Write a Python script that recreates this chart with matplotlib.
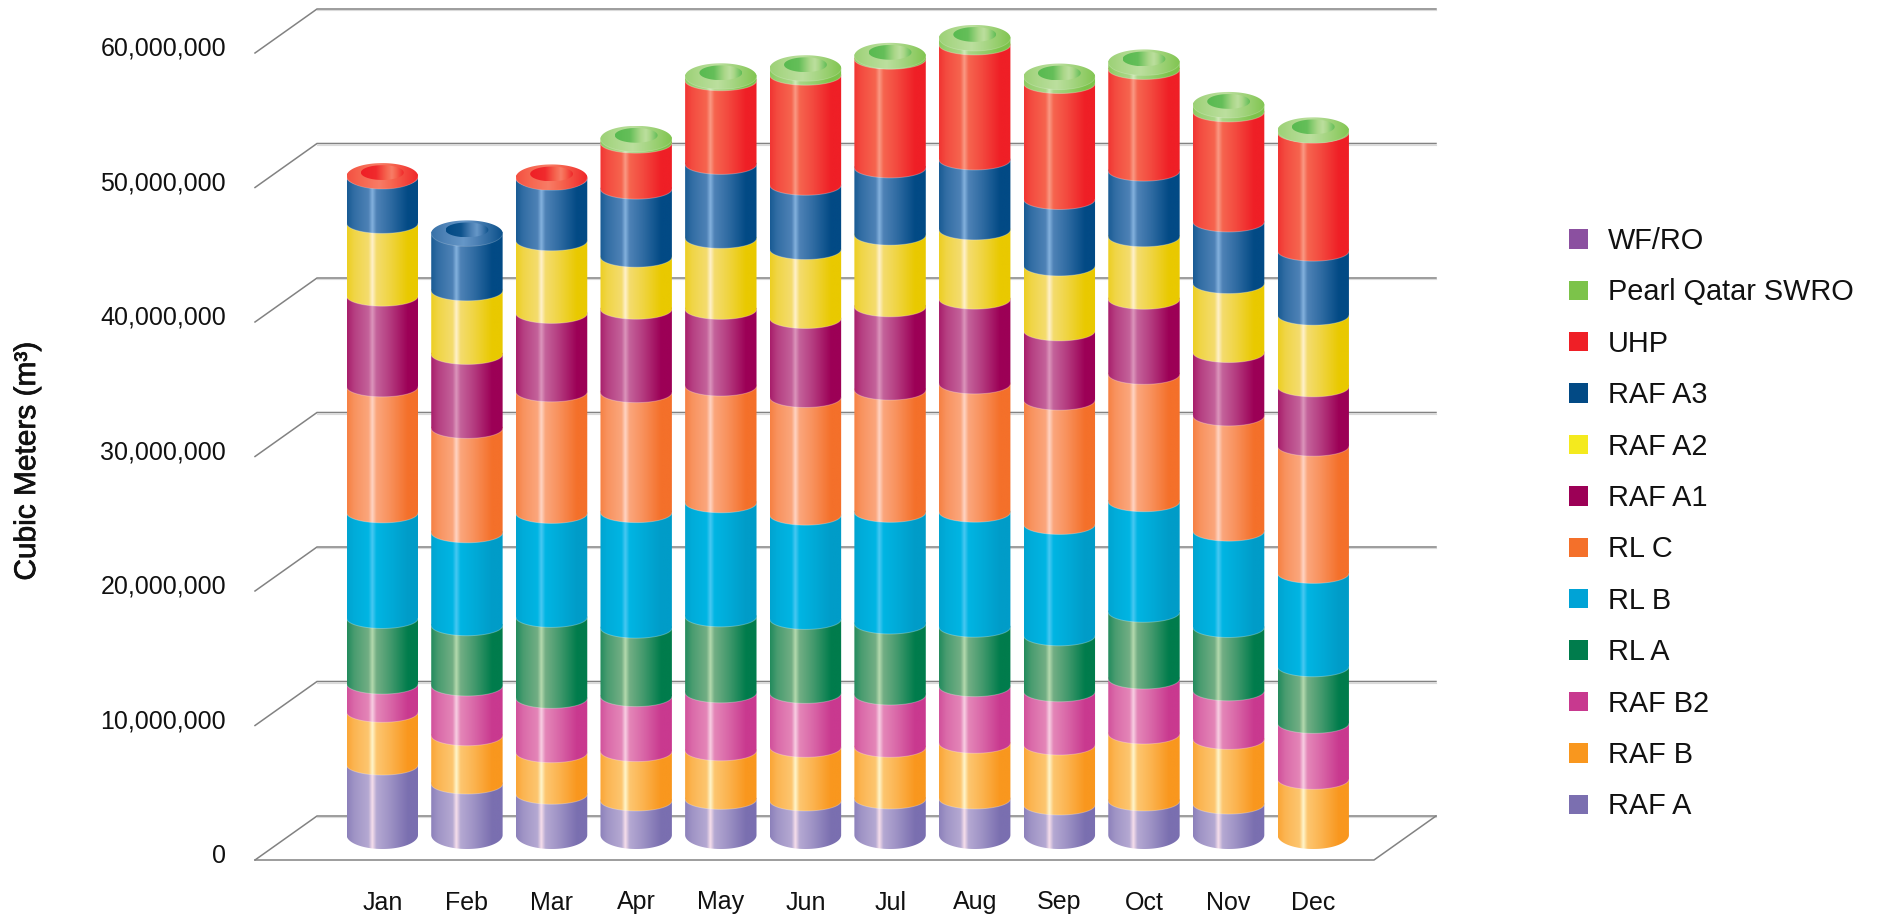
import numpy as np
import matplotlib
matplotlib.use("Agg")
import matplotlib.pyplot as plt
import matplotlib.patheffects as pe
from matplotlib.path import Path
from matplotlib.patches import PathPatch, Patch
from matplotlib.colors import to_rgb

plt.rcParams['font.family'] = ['Liberation Sans', 'DejaVu Sans']

months = ["Jan", "Feb", "Mar", "Apr", "May", "Jun", "Jul", "Aug", "Sep", "Oct", "Nov", "Dec"]
y_ticks = [0, 10, 20, 30, 40, 50, 60]

# Monthly production per source, million cubic meters, stacked bottom to top
raf_a   = [5.20, 3.79, 3.03, 2.53, 2.65, 2.53, 2.68, 2.68, 2.23, 2.53, 2.30, 0.00]
raf_b   = [3.92, 3.59, 3.09, 3.67, 3.61, 3.99, 3.84, 4.14, 4.46, 4.98, 4.81, 4.14]
raf_b2  = [2.10, 3.70, 4.04, 4.09, 4.31, 4.01, 3.89, 4.21, 3.96, 4.09, 3.61, 4.16]
rl_a    = [4.88, 4.48, 6.02, 5.09, 5.65, 5.50, 5.28, 4.42, 4.16, 4.96, 4.71, 4.21]
rl_b    = [7.85, 6.91, 7.73, 8.59, 8.48, 7.75, 8.30, 8.55, 8.28, 8.22, 7.16, 6.94]
rl_c    = [9.37, 7.76, 9.04, 8.92, 8.68, 8.75, 9.09, 9.54, 9.24, 9.47, 8.57, 9.46]
raf_a1  = [6.74, 5.50, 5.83, 6.20, 5.70, 5.87, 6.19, 6.30, 5.15, 5.58, 4.71, 4.41]
raf_a2  = [5.41, 4.73, 5.40, 3.87, 5.28, 5.13, 5.33, 5.15, 4.83, 4.65, 5.13, 5.33]
raf_a3  = [3.42, 4.27, 4.61, 5.06, 5.50, 4.78, 5.00, 5.20, 4.94, 4.88, 4.58, 4.76]
uhp     = [0.10, 0.00, 0.10, 3.42, 6.22, 8.18, 8.08, 8.55, 8.62, 7.56, 8.18, 8.80]
pearl   = [0.00, 0.00, 0.00, 0.32, 0.33, 0.52, 0.25, 0.52, 0.52, 0.52, 0.52, 0.18]
wf_ro   = [0.00] * 12

series_names = ["RAF A", "RAF B", "RAF B2", "RL A", "RL B", "RL C", "RAF A1", "RAF A2",
                "RAF A3", "UHP", "Pearl Qatar SWRO", "WF/RO"]
series_values = [raf_a, raf_b, raf_b2, rl_a, rl_b, rl_c, raf_a1, raf_a2, raf_a3, uhp, pearl, wf_ro]
base_colors = ["#7A6FB0", "#F9971E", "#C9398F", "#007C4C", "#009CC8", "#F4702A",
               "#9C0056", "#E9C900", "#024A85", "#EF1F26", "#7CC34A", "#8B50A0"]
mid_colors = ["#B5A9D2", "#FDC670", "#E486B8", "#72AE84", "#00B5E3", "#FBA67C",
              "#C4629A", "#F4DC6E", "#4E82B6", "#F6654F", "#AAD788", "#B58CC4"]
shine_colors = ["#F7DFEC", "#FFF6CC", "#F8D0E3", "#B5DAAE", "#48C8F2", "#FFD5C4",
                "#DC96BC", "#FFF1CC", "#84B2DE", "#FA9A84", "#D2E9BA", "#D8C0E0"]
legend_colors = ["#7B6FB0", "#F9971E", "#C8398F", "#007C4C", "#00A3D6", "#F4702A",
                 "#9C0056", "#F4EA1E", "#024A85", "#EF1F26", "#7CC34A", "#8B50A0"]

# Figure geometry, in pixels of the 100 dpi canvas
W, H = 1878, 917
X0, X_STEP = 382.3, 84.63       # first cylinder axis and spacing
Y0, Y_STEP = 835.0, 13.45       # baseline and pixels per million
RADIUS = 35.7
SAG, BASE_SAG, CAP_SAG = 10.0, 14.0, 13.0


def dx(p):
    return p / X_STEP


def dy(p):
    return p / Y_STEP


def x_at(px):
    return (px - X0) / X_STEP


fig = plt.figure(figsize=(W / 100, H / 100), dpi=100, facecolor="white")
ax = fig.add_axes([0, 0, 1, 1])
ax.axis("off")

# Shading profile across a cylinder: 0 base colour, 0.5 mid colour, 1 highlight
T = np.linspace(0, 1, 256)
SIDE = np.interp(T, [0, .10, .30, .352, .41, .60, .85, 1], [.15, .32, .5, 1, .5, .3, 0, 0])
RIM = np.interp(T, [0, .45, 1], [.35, .72, .05])
HOLE = np.interp(T, [0, .35, .72, .85, 1], [0, .08, .72, .42, .05])


def ramp(base, mid, shine, amount):
    stops = np.array([to_rgb(base), to_rgb(mid), to_rgb(shine)])
    rgb = [np.interp(amount, [0, .5, 1], stops[:, k]) for k in range(3)]
    return np.stack(rgb, axis=-1)[None, :, :]


def fill(vertices, rgb, left, right, bottom, top, z):
    clip = PathPatch(Path(vertices), transform=ax.transData)
    im = ax.imshow(rgb, extent=(left, right, bottom, top), aspect="auto",
                   interpolation="bilinear", origin="lower", zorder=z)
    im.set_clip_path(clip)
    return im


def ellipse(cx, cy, rx, ry):
    t = np.linspace(0, 2 * np.pi, 121)
    return np.column_stack([cx + rx * np.cos(t), cy + ry * np.sin(t)])


# Perspective frame: floor and receding wall lines
back_off, front_off = dy(Y0 - 816), dy(Y0 - 860)
xf_l, xb_l, xf_r, xb_r = x_at(255), x_at(317), x_at(1374), x_at(1436)
GRID = "#828282"
for v in y_ticks:
    ax.plot([xf_l, xb_l, xb_r], [v + front_off, v + back_off, v + back_off],
            color=GRID, lw=1.1, zorder=1, solid_joinstyle="miter")
    ax.plot([xb_l, xb_r], [v + back_off - dy(1.4)] * 2, color="#DADADA", lw=0.8, zorder=0.9)
ax.plot([xf_l, xf_r, xb_r], [front_off, front_off, back_off], color=GRID, lw=1.1, zorder=1,
        solid_joinstyle="miter")

# Stacked cylinders
rx = dx(RADIUS)
t = np.linspace(0, np.pi, 61)
z = 2.0
for i in range(len(months)):
    cx = float(i)
    level = 0.0
    top_idx = None
    for s, vals in enumerate(series_values):
        v = vals[i]
        if v <= 0:
            continue
        sag = dy(BASE_SAG if level == 0 else SAG)
        lower_x, lower_y = cx + rx * np.cos(t), level - sag * np.sin(t)
        upper_x, upper_y = cx - rx * np.cos(t), level + v + dy(SAG) * np.sin(t)
        verts = np.vstack([np.column_stack([lower_x, lower_y]),
                           np.column_stack([upper_x, upper_y]),
                           [[lower_x[0], lower_y[0]]]])
        fill(verts, ramp(base_colors[s], mid_colors[s], shine_colors[s], SIDE),
             cx - rx, cx + rx, level - sag * 1.1, level + v + dy(SAG) * 1.1, z)
        z += 0.01
        if level > 0:
            ax.plot(lower_x, lower_y, color="white", alpha=0.28, lw=0.7, zorder=z)
            z += 0.01
        level += v
        top_idx = s

    # Ring-shaped lid in the colour of the topmost source
    base, mid, shine = base_colors[top_idx], mid_colors[top_idx], shine_colors[top_idx]
    ry = dy(CAP_SAG)
    fill(ellipse(cx, level, rx, ry), ramp(base, mid, shine, RIM),
         cx - rx, cx + rx, level - ry, level + ry, z)
    z += 0.01
    lid = t + np.pi
    ax.plot(cx + rx * np.cos(lid), level + ry * np.sin(lid), color="white", alpha=0.22,
            lw=0.6, zorder=z)
    z += 0.01
    hx, hy = dx(21.4), dy(7.4)
    hole_c = level + dy(3.5)
    hole_base = "#58BA50" if top_idx == 10 else base
    fill(ellipse(cx, hole_c, hx, hy), ramp(hole_base, mid, shine, HOLE),
         cx - hx, cx + hx, hole_c - hy, hole_c + hy, z)
    z += 0.01

# Axis text
TEXT = "#111111"
for v in y_ticks:
    ax.text(x_at(226), v - dy(853.4 - Y0), f"{v * 1000000:,d}", ha="right", va="center_baseline",
            fontsize=18, color=TEXT, zorder=50)
for i, m in enumerate(months):
    ax.text(i, -dy(900 - Y0), m, ha="center", va="center_baseline", fontsize=18, color=TEXT, zorder=50)
ax.text(x_at(27), dy(Y0 - 461), "Cubic Meters (m³)", rotation=90, ha="center", va="center",
        fontsize=21.5, color=TEXT, zorder=50,
        path_effects=[pe.withStroke(linewidth=0.5, foreground=TEXT)])

ax.set_xlim(x_at(0), x_at(W))
ax.set_ylim(dy(Y0 - H), dy(Y0))

# Legend, top entry last in the stack
handles = [Patch(facecolor=c, edgecolor="none", label=n)
           for n, c in zip(series_names[::-1], legend_colors[::-1])]
fs = 20.8
em = fs * 100 / 72
leg = fig.legend(handles=handles, loc="upper left", frameon=False, fontsize=fs,
                 bbox_to_anchor=(1569 / W, 1 - 227 / H), borderpad=0, borderaxespad=0,
                 handlelength=19 / em, handleheight=19 / em, handletextpad=20 / em,
                 labelspacing=0.81, labelcolor=TEXT)

fig.savefig("out.png", dpi=100, facecolor="white")
